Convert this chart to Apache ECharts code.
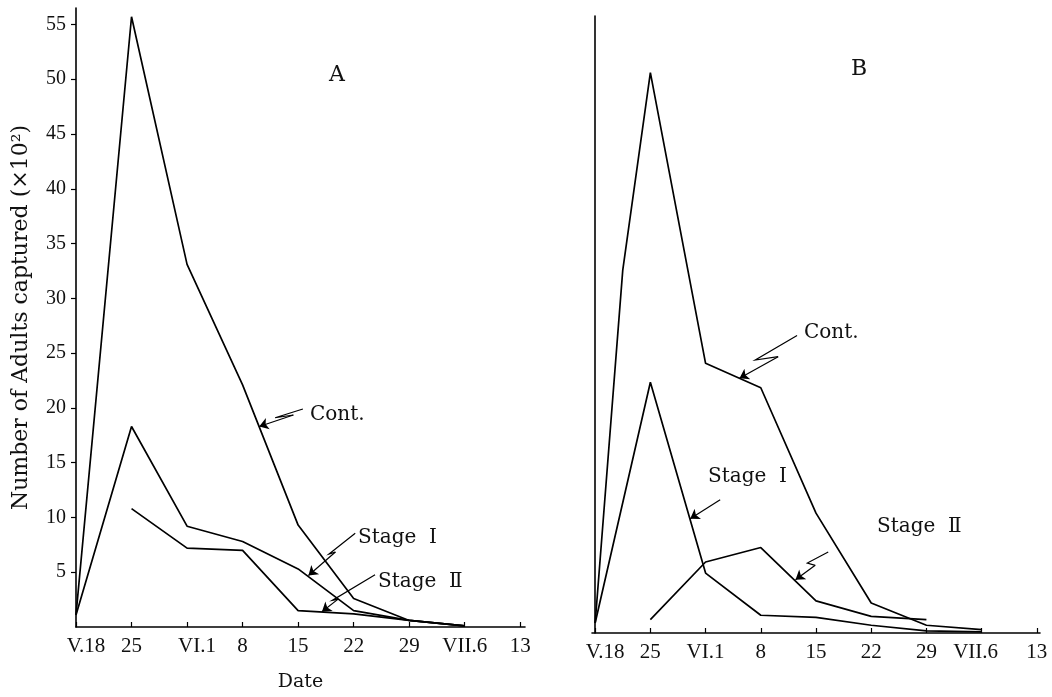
<!DOCTYPE html>
<html>
<head>
<meta charset="utf-8">
<script src="https://cdn.jsdelivr.net/npm/echarts@6/dist/echarts.min.js"></script>
<style>
  html, body { margin: 0; padding: 0; background: #fff; }
  #chart { width: 1052px; height: 697px; }
</style>
</head>
<body>
<div id="chart"></div>
<script>
// days counted from V.18 (May 18)
const weekDays = [0, 7, 14, 21, 28, 35, 42, 49];
const tickDays = [0, 7, 14, 21, 28, 35, 42, 49, 56];
const tickLabels = ['V.18', '25', 'VI.1', '8', '15', '22', '29', 'VII.6', '13'];
const yTicks = [5, 10, 15, 20, 25, 30, 35, 40, 45, 50, 55];

// panel A (x10^2 adults)
const contA   = [1.1, 55.7, 33.1, 22.1, 9.3, 2.6, 0.6, 0.1];
const stage1A = [1.1, 18.3, 9.2, 7.8, 5.3, 1.5, 0.6, 0.1];
const stage2A = [null, 10.8, 7.2, 7.0, 1.5, 1.2, 0.6, 0.1];

// panel B
const contBDays = [0, 3.5, 7, 14, 21, 28, 35, 42, 49];
const contB     = [0.9, 32.7, 50.5, 24.3, 22.1, 10.8, 2.7, 0.7, 0.3];
const stage1B   = [0.9, 22.6, 5.4, 1.6, 1.4, 0.7, 0.2, 0.1];
const stage2B   = [null, 1.2, 6.4, 7.7, 2.9, 1.5, 1.2, null];

// leader lines for the labels, in data units [day, value]; last point is the arrow tip
const leadContA   = [[28.6, 19.9], [25.1, 19.1], [27.4, 19.35], [23.1, 18.3]];
const leadStage1A = [[35.2, 8.55], [31.9, 6.66], [32.7, 6.84], [29.3, 4.7]];
const leadStage2A = [[37.7, 4.77], [32.3, 2.43], [33.0, 2.52], [31.0, 1.4]];
const leadContB   = [[25.6, 26.8], [20.3, 24.6], [23.2, 24.9], [18.3, 22.95]];
const leadStage1B = [[15.85, 12.0], [12.05, 10.3]];
const leadStage2B = [[29.55, 7.3], [26.9, 6.3], [27.9, 6.1], [25.4, 4.8]];

function pairs(xs, ys) {
    const out = [];
    for (let i = 0; i < ys.length; i++) {
        if (ys[i] != null) out.push([xs[i], ys[i]]);
    }
    return out;
}

const serif = 'Liberation Serif';
const serif2 = 'DejaVu Serif';

function xAxisFor(idx, shifts) {
    return {
        type: 'value',
        gridIndex: idx,
        min: idx === 0 ? 0 : -0.4,
        max: idx === 0 ? 56.6 : 56.4,
        axisLine: { show: true, onZero: false, lineStyle: { color: '#000', width: 1.6 } },
        axisTick: { show: true, inside: true, length: 5, customValues: tickDays, lineStyle: { color: '#000', width: 1.2 } },
        splitLine: { show: false },
        axisLabel: {
            customValues: tickDays,
            margin: 9,
            color: '#111',
            fontFamily: serif,
            fontSize: 21,
            formatter: function (v) {
                const i = tickDays.indexOf(v);
                if (i < 0) return '';
                const s = shifts[i];
                if (s > 0) return '{r|' + tickLabels[i] + '}';
                if (s < 0) return '{l|' + tickLabels[i] + '}';
                return tickLabels[i];
            },
            rich: {
                r: { fontFamily: serif, fontSize: 21, color: '#111', padding: [0, 0, 0, 20] },
                l: { fontFamily: serif, fontSize: 21, color: '#111', padding: [0, 12, 0, 0] }
            }
        },
        name: idx === 0 ? 'Date' : '',
        nameLocation: 'middle',
        nameGap: 46,
        nameTextStyle: { fontFamily: serif2, fontSize: 19, color: '#111' }
    };
}

function lineSeries(data, gi) {
    return {
        type: 'line',
        xAxisIndex: gi,
        yAxisIndex: gi,
        data: data,
        showSymbol: false,
        symbol: 'none',
        lineStyle: { color: '#000', width: 1.7 },
        silent: true,
        animation: false
    };
}

// zig part of every leader (no symbols)
function leaderBody(list, gi) {
    return {
        type: 'lines',
        coordinateSystem: 'cartesian2d',
        xAxisIndex: gi,
        yAxisIndex: gi,
        polyline: true,
        symbol: 'none',
        lineStyle: { color: '#000', width: 1.2, opacity: 1, curveness: 0 },
        data: list.filter(c => c.length > 2).map(c => ({ coords: c.slice(0, c.length - 1) })),
        silent: true,
        animation: false
    };
}

// last segment of every leader, ending in an arrow head
function leaderTip(list, gi) {
    return {
        type: 'lines',
        coordinateSystem: 'cartesian2d',
        xAxisIndex: gi,
        yAxisIndex: gi,
        symbol: ['none', 'arrow'],
        symbolSize: [5, 9],
        lineStyle: { color: '#000', width: 1.2, opacity: 1, curveness: 0 },
        data: list.map(c => ({ coords: c.slice(c.length - 2) })),
        silent: true,
        animation: false
    };
}

function label(text, x, y, size, align) {
    return {
        type: 'text',
        x: x,
        y: y,
        style: {
            text: text,
            fill: '#111',
            font: size + 'px "' + serif2 + '"',
            textAlign: align || 'left',
            textVerticalAlign: 'middle'
        },
        silent: true
    };
}

const chart = echarts.init(document.getElementById('chart'), null, { renderer: 'canvas' });

const leadersA = [leadContA, leadStage1A, leadStage2A];
const leadersB = [leadContB, leadStage1B, leadStage2B];

const option = {
    backgroundColor: '#fff',
    animation: false,
    grid: [
        { left: 76, top: 8, width: 449, height: 627 },
        { left: 592, top: 16, width: 448, height: 617 }
    ],
    xAxis: [
        xAxisFor(0, [1, 0, 1, 0, 0, 0, 0, 0, 0]),
        xAxisFor(1, [1, 0, 0, 0, 0, 0, 0, -1, 0])
    ],
    yAxis: [
        {
            type: 'value',
            gridIndex: 0,
            min: 0,
            max: 56.5,
            axisLine: { show: true, lineStyle: { color: '#000', width: 1.6 } },
            axisTick: { show: true, length: 5, customValues: yTicks, lineStyle: { color: '#000', width: 1.2 } },
            splitLine: { show: false },
            axisLabel: {
                customValues: yTicks,
                margin: 10,
                color: '#111',
                fontFamily: serif,
                fontSize: 20
            },
            name: 'Number of Adults captured (×10²)',
            nameLocation: 'middle',
            nameRotate: 90,
            nameGap: 44,
            nameTextStyle: { fontFamily: serif2, fontSize: 22, color: '#111' }
        },
        {
            type: 'value',
            gridIndex: 1,
            min: 0,
            max: 55.6,
            axisLine: { show: true, lineStyle: { color: '#000', width: 1.6 } },
            axisTick: { show: false },
            splitLine: { show: false },
            axisLabel: { show: false }
        }
    ],
    graphic: [
        label('A', 337, 75, 22, 'center'),
        label('B', 859, 69, 22, 'center'),
        label('Cont.', 310, 415, 20),
        label('Stage  Ⅰ', 358, 538, 20),
        label('Stage  Ⅱ', 378, 582, 20),
        label('Cont.', 804, 333, 20),
        label('Stage  Ⅰ', 708, 477, 20),
        label('Stage  Ⅱ', 877, 527, 20)
    ],
    series: [
        lineSeries(pairs(weekDays, contA), 0),
        lineSeries(pairs(weekDays, stage1A), 0),
        lineSeries(pairs(weekDays, stage2A), 0),
        lineSeries(pairs(contBDays, contB), 1),
        lineSeries(pairs(weekDays, stage1B), 1),
        lineSeries(pairs(weekDays, stage2B), 1),
        leaderBody(leadersA, 0),
        leaderTip(leadersA, 0),
        leaderBody(leadersB, 1),
        leaderTip(leadersB, 1)
    ]
};

chart.setOption(option);
</script>
</body>
</html>
